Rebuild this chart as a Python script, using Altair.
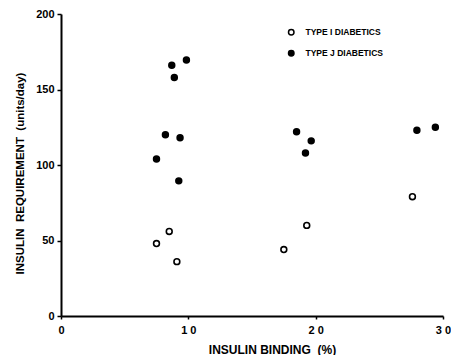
import altair as alt
import pandas as pd

# Type I diabetics (open circles)
t1_binding = [7.5, 8.5, 9.1, 17.5, 19.3, 27.6]
t1_req = [48, 56, 36, 44, 60, 79]
# Type II diabetics (filled circles)
t2_binding = [8.7, 8.9, 9.85, 8.2, 9.35, 7.5, 9.25, 18.5, 19.65, 19.2, 27.95, 29.4]
t2_req = [166, 158, 169.5, 120, 118, 104, 89.5, 122, 116, 108, 123, 125]

groups = ["TYPE I DIABETICS", "TYPE J DIABETICS"]
x_ticks = [0, 10, 20, 30]
y_ticks = [0, 50, 100, 150, 200]

df = pd.DataFrame({
    "binding": t1_binding + t2_binding,
    "req": t1_req + t2_req,
    "group": [groups[0]] * len(t1_binding) + [groups[1]] * len(t2_binding),
})

FONT = "Liberation Sans"
NB = "\u00a0"

chart = alt.Chart(df).mark_point(
    shape="circle", filled=False, size=34, strokeWidth=1.6, stroke="black", opacity=1
).encode(
    x=alt.X("binding:Q", title=f"INSULIN BINDING{NB}{NB}(%)",
            scale=alt.Scale(domain=[0, 30], nice=False),
            axis=alt.Axis(values=x_ticks, grid=False, tickSize=3,
                          labelPadding=5, labelFlush=False, titleX=211, titleY=28,
                          titleAlign="center", titleBaseline="top",
                          labelExpr="join(split(datum.label, ''), ' ')")),
    y=alt.Y("req:Q", title=f"INSULIN{NB}{NB}REQUIREMENT{NB}{NB}(units/day)",
            scale=alt.Scale(domain=[0, 200], nice=False),
            axis=alt.Axis(values=y_ticks, grid=False, tickSize=4, labelFlush=False,
                          labelPadding=3, titleX=-41, titleY=159,
                          titleAngle=-90, titleAlign="center", titleFontSize=11.5,
                          titleBaseline="middle")),
    fill=alt.Fill("group:N", scale=alt.Scale(domain=groups, range=["white", "black"]),
                  legend=alt.Legend(title=None, orient="none", legendX=226, legendY=14,
                                    symbolStrokeColor="black", symbolStrokeWidth=1.5,
                                    symbolSize=30, labelFont=FONT, labelFontWeight="bold",
                                    labelFontSize=8.5, labelColor="black", rowPadding=9,
                                    labelOffset=10, symbolType="circle", padding=0)),
).properties(
    width=382, height=302,
    autosize=alt.AutoSizeParams(type="none"),
    padding={"left": 53, "top": 6, "right": 8, "bottom": 39},
).configure_view(stroke=None).configure_axis(
    domainColor="black", domainWidth=2, tickColor="black", tickWidth=1.5,
    labelFont=FONT, labelFontWeight="bold", labelFontSize=11, labelColor="black",
    titleFont=FONT, titleFontWeight="bold", titleFontSize=12, titleColor="black",
)

chart.save("out.html", embed_options={"renderer": "svg", "actions": False})
